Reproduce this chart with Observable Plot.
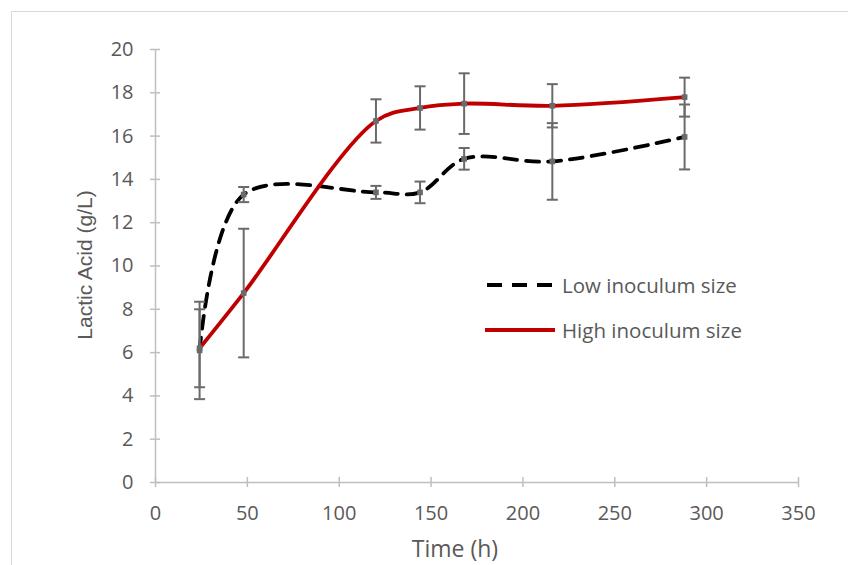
<!DOCTYPE html>
<html><head><meta charset="utf-8">
<script src="https://cdn.jsdelivr.net/npm/d3@7"></script>
<script src="https://cdn.jsdelivr.net/npm/@observablehq/plot@0.6"></script>
<style>
body{margin:0;background:#fff;font-family:"Open Sans",sans-serif;}
#wrap{position:relative;width:848px;height:565px;overflow:hidden;}
#border{position:absolute;left:11px;top:11px;width:860px;height:600px;border:1px solid #d9d9d9;}
#chart{position:absolute;left:0;top:0;}
#legend{position:absolute;left:485px;top:262px;font-size:20.5px;color:#595959;}
#legend .row{display:flex;align-items:center;height:45px;}
#legend svg{margin-right:7px;}
</style></head>
<body>
<div id="wrap"><div id="border"></div><div id="chart"></div>
<div id="legend">
<div class="row"><svg width="70" height="10"><line x1="2" x2="70" y1="5" y2="5" stroke="#000" stroke-width="4" stroke-dasharray="15,10"/></svg><span>Low inoculum size</span></div>
<div class="row"><svg width="70" height="10"><line x1="0" x2="70" y1="5" y2="5" stroke="#c00000" stroke-width="4"/></svg><span>High inoculum size</span></div>
</div></div>
<script>
const times = [24, 48, 120, 144, 168, 216, 288];
const lowValues = [6.1, 13.3, 13.4, 13.4, 14.95, 14.83, 15.96];
const lowErrors = [2.25, 0.35, 0.3, 0.5, 0.5, 1.77, 1.5];
const highValues = [6.2, 8.75, 16.7, 17.3, 17.5, 17.4, 17.8];
const highErrors = [1.8, 2.97, 1.0, 1.0, 1.4, 1.0, 0.9];
const xTicks = [0, 50, 100, 150, 200, 250, 300, 350];
const yTicks = [0, 2, 4, 6, 8, 10, 12, 14, 16, 18, 20];

const low = times.map((t, i) => ({t, v: lowValues[i], e: lowErrors[i]}));
const high = times.map((t, i) => ({t, v: highValues[i], e: highErrors[i]}));
const all = [...low, ...high];
const gray = "#6a6a6a";

const chart = Plot.plot({
  width: 848, height: 565,
  marginLeft: 155, marginRight: 50, marginTop: 49, marginBottom: 83,
  style: {fontFamily: '"Open Sans",sans-serif', fontSize: "20px", color: "#595959", background: "transparent"},
  x: {domain: [0, 350], label: null},
  y: {domain: [0, 20], label: null},
  marks: [
    Plot.ruleX([0], {stroke: "#bfbfbf", strokeWidth: 1.5}),
    Plot.ruleY([0], {stroke: "#bfbfbf", strokeWidth: 1.5}),
    Plot.axisX({ticks: xTicks, tickSize: 5, tickPadding: 18, stroke: "#bfbfbf", strokeWidth: 1.5, label: null, fontSize: 20}),
    Plot.axisY({ticks: yTicks, tickSize: 5, tickPadding: 17, stroke: "#bfbfbf", strokeWidth: 1.5, label: null, fontSize: 20}),
    Plot.line(low, {x: "t", y: "v", curve: "catmull-rom", stroke: "#000", strokeWidth: 3.8, strokeDasharray: "13,9"}),
    Plot.line(high, {x: "t", y: "v", curve: "catmull-rom", stroke: "#c00000", strokeWidth: 3.8}),
    Plot.ruleX(all, {x: "t", y1: d => d.v - d.e, y2: d => d.v + d.e, stroke: gray, strokeWidth: 2}),
    Plot.link(all, {x1: d => d.t - 3, x2: d => d.t + 3, y1: d => d.v + d.e, y2: d => d.v + d.e, stroke: gray, strokeWidth: 2}),
    Plot.link(all, {x1: d => d.t - 3, x2: d => d.t + 3, y1: d => d.v - d.e, y2: d => d.v - d.e, stroke: gray, strokeWidth: 2}),
    Plot.dot(all, {x: "t", y: "v", symbol: "square", r: 3.2, fill: gray, stroke: "none"})
  ]
});
const svg = d3.select(chart);
svg.selectAll("g[aria-label='x-axis tick label'] text, g[aria-label='y-axis tick label'] text")
  .style("font-size", "20px").attr("fill", "#595959");
svg.selectAll("g[aria-label='y-axis tick'] path").attr("d", "M-5,0L5,0");
svg.selectAll("g[aria-label='x-axis tick'] path").attr("d", "M0,-5L0,5");
svg.append("text").attr("x", 455).attr("y", 557).attr("text-anchor", "middle")
  .style("font-family", '"Open Sans",sans-serif').style("font-size", "23px").attr("fill", "#595959").text("Time (h)");
svg.append("text").attr("transform", "translate(92,265) rotate(-90)").attr("text-anchor", "middle")
  .style("font-family", '"Liberation Sans",Arial,sans-serif').style("font-size", "21px").attr("fill", "#595959").text("Lactic Acid (g/L)");
document.getElementById("chart").appendChild(chart);
</script>
</body></html>
